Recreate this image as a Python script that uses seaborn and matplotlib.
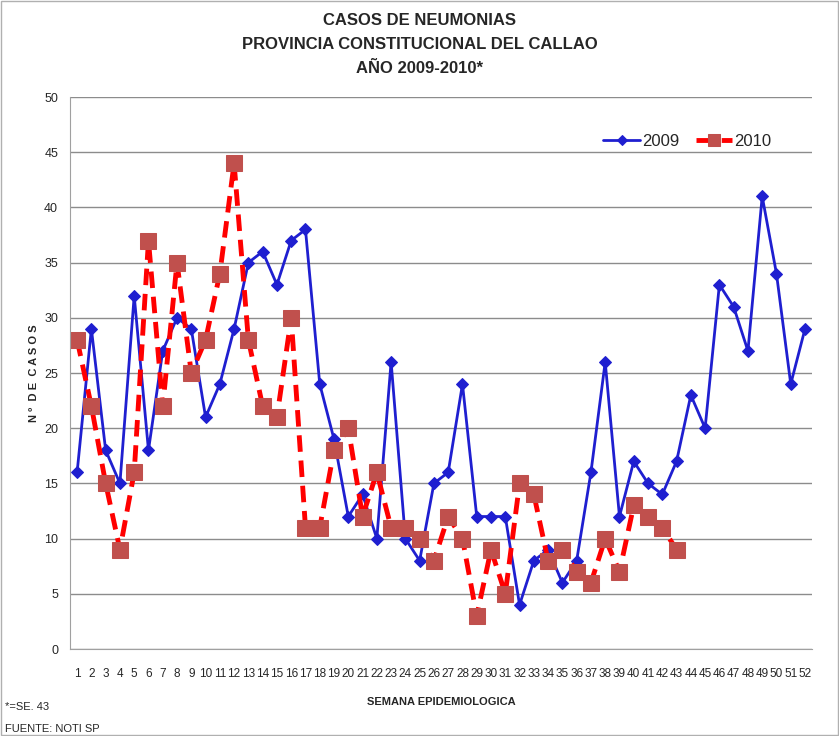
"""
Casos de neumonias - Callao 2009-2010, recreated with seaborn.
"""

import numpy as np
import pandas as pd
import matplotlib.pyplot as plt
import seaborn as sns

# Data
WEEKS_2009 = list(range(1, 53))
CASES_2009 = [16, 29, 18, 15, 32, 18, 27, 30, 29, 21, 24, 29, 35, 36, 33, 37,
              38, 24, 19, 12, 14, 10, 26, 10, 8, 15, 16, 24, 12, 12, 12, 4,
              8, 9, 6, 8, 16, 26, 12, 17, 15, 14, 17, 23, 20, 33, 31, 27,
              41, 34, 24, 29]
WEEKS_2010 = list(range(1, 44))
CASES_2010 = [28, 22, 15, 9, 16, 37, 22, 35, 25, 28, 34, 44, 28, 22, 21, 30,
              11, 11, 18, 20, 12, 16, 11, 11, 10, 8, 12, 10, 3, 9, 5, 15,
              14, 8, 9, 7, 6, 10, 7, 13, 12, 11, 9]

TITLE = "CASOS DE NEUMONIAS\nPROVINCIA CONSTITUCIONAL DEL CALLAO\nAÑO 2009-2010*"
Y_LABEL = "N º  D E  C A S O S"
X_LABEL = "SEMANA EPIDEMIOLOGICA"

# Style
sns.set_style("white")
plt.rcParams["font.family"] = ["Liberation Sans", "DejaVu Sans"]

BLUE = "#1f1fd0"
RED = "#ff0000"
SQUARE = "#c0504d"

df_2009 = pd.DataFrame({"semana": WEEKS_2009, "casos": CASES_2009})
df_2010 = pd.DataFrame({"semana": WEEKS_2010, "casos": CASES_2010})

fig = plt.figure(figsize=(8.39, 7.36), dpi=100)
ax = fig.add_axes([0.0834, 0.1182, 0.8846, 0.7500])

sns.lineplot(data=df_2009, x="semana", y="casos", ax=ax, color=BLUE,
             linewidth=2, marker="D", markersize=6, markeredgecolor=BLUE,
             label="2009")
sns.lineplot(data=df_2010, x="semana", y="casos", ax=ax, color=RED,
             linewidth=3.5, linestyle=(0, (3.4, 1.8)), marker="s", markersize=11,
             markerfacecolor=SQUARE, markeredgecolor=SQUARE, label="2010")

# Axes
ax.set_xlim(0.5, 52.5)
ax.set_ylim(0, 50)
ax.set_yticks(np.arange(0, 51, 5))
ax.set_xticks(WEEKS_2009)
ax.set_xticks(np.arange(0.5, 53, 1), minor=True)
ax.tick_params(axis="x", which="major", length=0, labelsize=8.5, pad=14)
ax.tick_params(axis="x", which="minor", length=5, color="#888888", direction="out")
ax.tick_params(axis="y", length=5, color="#888888", labelsize=9, direction="out")
ax.yaxis.grid(True, color="#8c8c8c", linewidth=1)
ax.set_axisbelow(True)
for side in ["top", "right"]:
    ax.spines[side].set_visible(False)
ax.spines["left"].set_color("#a0a0a0")
ax.spines["bottom"].set_color("#a0a0a0")

ax.set_xlabel(X_LABEL, fontsize=8, fontweight="bold", labelpad=12)
ax.set_ylabel(Y_LABEL, fontsize=8, fontweight="bold", labelpad=4)

ax.legend(loc="upper right", bbox_to_anchor=(0.965, 0.96), ncol=2, frameon=False,
          fontsize=12, handlelength=2.2, columnspacing=1.0, handletextpad=0.1,
          markerscale=0.8)

fig.suptitle(TITLE, y=0.982, fontsize=12, fontweight="bold", linespacing=1.75)

# Footnotes
fig.text(0.006, 0.035, "*=SE. 43", fontsize=8)
fig.text(0.006, 0.005, "FUENTE: NOTI SP", fontsize=8)

# Outer border
fig.patches.append(plt.Rectangle((0.001, 0.001), 0.998, 0.998, transform=fig.transFigure,
                                 fill=False, edgecolor="#b0b0b0", linewidth=1))

fig.savefig("out.png", dpi=100)
